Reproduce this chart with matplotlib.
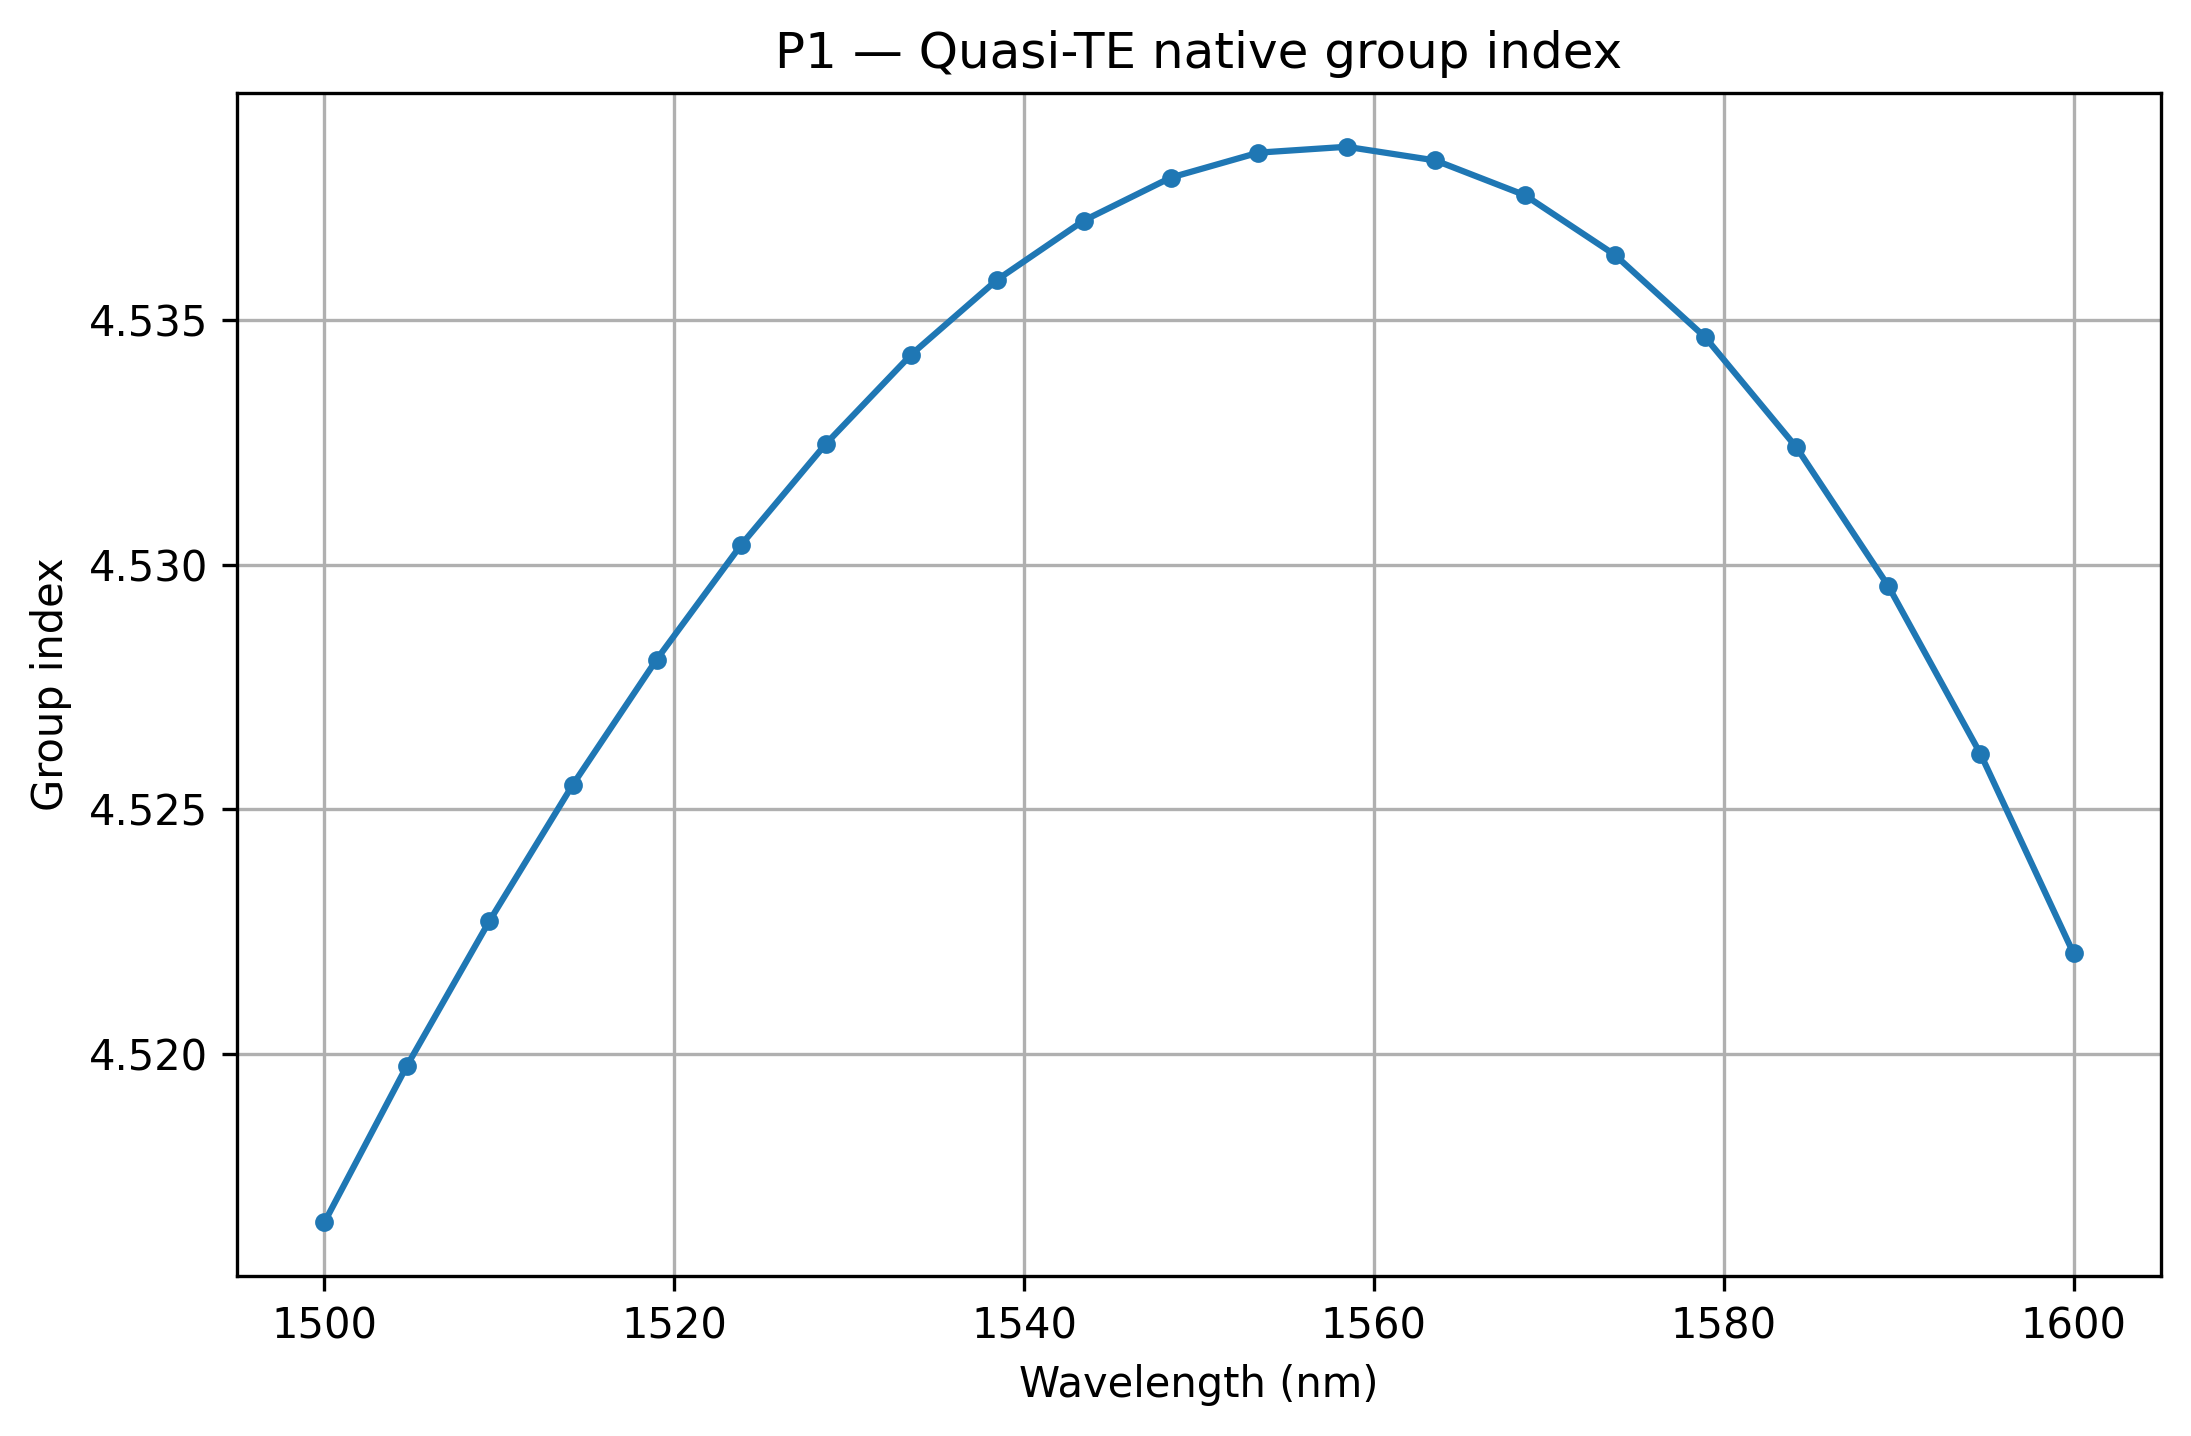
import matplotlib
matplotlib.use("Agg")
import matplotlib.pyplot as plt

# wavelength samples (nm) and quasi-TE group index
wavelength_nm = [1500.00, 1504.70, 1509.43, 1514.20, 1518.99, 1523.81, 1528.66,
                 1533.55, 1538.46, 1543.41, 1548.39, 1553.40, 1558.44, 1563.52,
                 1568.63, 1573.77, 1578.95, 1584.16, 1589.40, 1594.68, 1600.00]
group_index = [4.51655, 4.51974, 4.52271, 4.52550, 4.52806, 4.53040, 4.53247,
               4.53430, 4.53583, 4.53704, 4.53792, 4.53843, 4.53855, 4.53827,
               4.53756, 4.53634, 4.53465, 4.53240, 4.52957, 4.52613, 4.52205]

fig = plt.figure(figsize=(2191 / 300, 1436 / 300), dpi=300)
ax = fig.add_axes([237 / 2191, 1 - 1276 / 1436, (2161 - 237) / 2191, (1276 - 93) / 1436])

ax.plot(wavelength_nm, group_index, marker="o", markersize=3.5)
ax.set_xlabel("Wavelength (nm)")
ax.set_ylabel("Group index")
ax.set_title("P1 — Quasi-TE native group index")
ax.grid(True)

fig.savefig("out.png", dpi=300)
